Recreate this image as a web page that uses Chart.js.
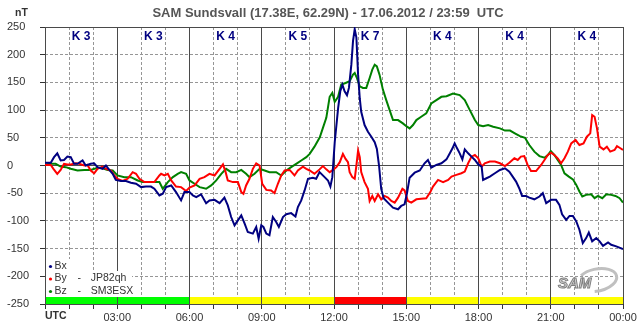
<!DOCTYPE html>
<html>
<head>
<meta charset="utf-8">
<script src="https://cdn.jsdelivr.net/npm/chart.js@4.4.1/dist/chart.umd.min.js"></script>
<style>
  html, body { margin: 0; padding: 0; background: #fff; }
</style>
</head>
<body>
<canvas id="mag" width="643" height="331"></canvas>
<script>
// Data: [hour UTC, nT]
const bx = [[0,5],[0.24,5],[0.375,15],[0.51,22],[0.65,9],[0.79,10],[0.93,16],[1.07,15],[1.21,3],[1.35,3],
  [1.56,9],[1.69,0],[1.9,3],[2.04,4],[2.18,-3],[2.39,-6],[2.53,0],[2.67,-8],[2.81,-15],[2.94,-26],
  [3.15,-28],[3.36,-28],[3.57,-31],[3.78,-33],[3.99,-39],[4.19,-38],[4.4,-38],[4.54,-42],[4.75,-54],[4.89,-51],
  [5.03,-39],[5.24,-36],[5.44,-48],[5.65,-63],[5.79,-48],[6.0,-48],[6.14,-54],[6.28,-57],[6.48,-52],[6.69,-68],
  [6.83,-63],[7.04,-62],[7.25,-68],[7.45,-58],[7.59,-72],[7.73,-93],[7.87,-108],[8.01,-99],[8.15,-90],[8.29,-105],
  [8.42,-120],[8.63,-123],[8.77,-111],[8.87,-132],[8.98,-108],[9.07,-111],[9.19,-123],[9.32,-126],[9.46,-93],[9.6,-102],
  [9.71,-111],[9.88,-93],[10.02,-88],[10.22,-86],[10.4,-92],[10.5,-75],[10.64,-63],[10.78,-45],[10.92,-24],[11.12,-22],
  [11.26,-24],[11.4,-12],[11.61,-21],[11.75,-27],[11.85,-38],[11.93,-21],[12.03,42],[12.17,103],[12.26,134],[12.35,146],
  [12.44,134],[12.54,127],[12.62,140],[12.72,182],[12.79,225],[12.86,246],[12.93,231],[13.0,164],[13.07,121],[13.13,97],
  [13.27,73],[13.41,61],[13.55,52],[13.69,42],[13.78,30],[13.87,0],[13.96,-42],[14.06,-59],[14.24,-67],[14.45,-76],
  [14.66,-79],[14.79,-73],[14.93,-70],[15.03,-50],[15.14,-22],[15.35,-13],[15.56,-9],[15.76,4],[15.9,10],[16.04,-4],
  [16.25,1],[16.46,4],[16.67,11],[16.81,22],[16.92,31],[17.01,40],[17.11,31],[17.22,22],[17.33,11],[17.43,29],
  [17.57,22],[17.71,16],[17.85,10],[17.99,2],[18.13,-2],[18.19,-26],[18.33,-23],[18.47,-20],[18.68,-14],[18.89,-8],
  [19.1,-5],[19.28,-11],[19.42,-20],[19.56,-29],[19.69,-41],[19.81,-55],[19.97,-55],[20.11,-58],[20.32,-61],[20.53,-56],
  [20.67,-50],[20.81,-68],[21.01,-62],[21.22,-62],[21.36,-71],[21.47,-88],[21.64,-98],[21.78,-91],[21.92,-91],[22.06,-101],
  [22.19,-116],[22.33,-140],[22.47,-131],[22.58,-121],[22.72,-137],[22.89,-131],[23.03,-137],[23.17,-145],[23.38,-139],[23.51,-143],
  [23.72,-146],[24,-151]];

const by = [[0,1],[0.24,1],[0.35,-6],[0.51,-15],[0.65,-8],[0.79,3],[0.93,2],[1.07,2],[1.28,4],[1.42,3],
  [1.63,0],[1.76,1],[1.9,-9],[2.04,-14],[2.18,-6],[2.39,-2],[2.53,-6],[2.74,-9],[2.88,-18],[3.01,-24],
  [3.22,-28],[3.43,-24],[3.64,-12],[3.78,-15],[3.92,-24],[4.13,-30],[4.33,-30],[4.54,-30],[4.75,-18],[4.82,-15],
  [4.96,-18],[5.1,-15],[5.24,-27],[5.44,-38],[5.65,-39],[5.86,-46],[6.0,-40],[6.21,-36],[6.42,-24],[6.62,-21],
  [6.83,-15],[7.04,-18],[7.25,-6],[7.39,2],[7.5,-12],[7.59,-27],[7.8,-30],[8.01,-30],[8.15,-48],[8.24,-51],
  [8.35,-36],[8.49,-24],[8.63,-6],[8.77,4],[8.91,0],[9.02,-33],[9.19,-44],[9.39,-45],[9.53,-50],[9.67,-33],
  [9.81,-18],[9.95,-9],[10.16,-8],[10.36,-18],[10.5,-9],[10.71,-2],[10.85,-6],[10.99,-9],[11.19,-15],[11.4,-7],
  [11.54,-1],[11.68,-7],[11.82,-12],[11.96,-8],[12.1,-3],[12.24,6],[12.37,21],[12.48,12],[12.58,6],[12.65,-12],
  [12.76,-21],[12.86,-24],[12.93,0],[13.0,27],[13.07,15],[13.13,-12],[13.27,-30],[13.41,-42],[13.48,-64],[13.59,-55],
  [13.69,-64],[13.83,-52],[13.96,-61],[14.1,-55],[14.24,-58],[14.38,-64],[14.52,-67],[14.66,-58],[14.84,-42],[14.93,-45],
  [15.07,-64],[15.21,-67],[15.42,-61],[15.62,-60],[15.83,-59],[16.0,-48],[16.11,-38],[16.32,-26],[16.53,-30],[16.74,-26],
  [16.88,-20],[17.08,-17],[17.29,-14],[17.43,-11],[17.57,4],[17.71,16],[17.85,19],[17.99,13],[18.13,-2],[18.26,4],
  [18.47,7],[18.68,7],[18.89,4],[19.1,-1],[19.28,5],[19.49,13],[19.63,10],[19.76,16],[19.9,17],[20.04,1],
  [20.18,-10],[20.39,-10],[20.6,1],[20.74,10],[20.88,19],[21.01,23],[21.15,19],[21.29,13],[21.43,4],[21.57,13],
  [21.71,25],[21.85,40],[22.03,46],[22.19,37],[22.36,40],[22.5,52],[22.64,58],[22.72,91],[22.82,88],[22.92,67],
  [23.03,34],[23.19,29],[23.33,34],[23.47,25],[23.65,28],[23.75,35],[23.86,32],[24,28]];

const bz = [[0,2],[0.24,3],[0.44,3],[0.65,-2],[0.86,-3],[1.07,-6],[1.35,-9],[1.63,-8],[1.9,-8],[2.18,-4],
  [2.39,-5],[2.6,-8],[2.81,-9],[3.01,-18],[3.29,-21],[3.57,-21],[3.85,-27],[4.06,-30],[4.26,-30],[4.54,-30],
  [4.75,-30],[4.89,-42],[5.1,-30],[5.31,-21],[5.51,-15],[5.65,-12],[5.86,-15],[6.0,-27],[6.21,-33],[6.42,-39],
  [6.69,-42],[6.9,-36],[7.11,-27],[7.32,-15],[7.52,-6],[7.73,-12],[7.94,-12],[8.15,-8],[8.35,-15],[8.49,-21],
  [8.7,-15],[8.91,-6],[9.12,-9],[9.32,-12],[9.6,-12],[9.81,-18],[10.02,-9],[10.22,-3],[10.43,3],[10.64,9],
  [10.85,15],[10.99,21],[11.19,34],[11.41,51],[11.54,68],[11.68,86],[11.82,124],[11.93,131],[12.03,115],[12.17,124],
  [12.3,146],[12.48,149],[12.65,152],[12.79,164],[12.86,167],[12.95,158],[13.07,143],[13.2,140],[13.34,140],[13.48,158],
  [13.59,173],[13.69,182],[13.78,179],[13.89,164],[14.03,137],[14.17,118],[14.31,100],[14.45,82],[14.66,82],[14.86,76],
  [15.03,70],[15.14,67],[15.28,73],[15.42,82],[15.62,88],[15.83,94],[16.04,112],[16.25,118],[16.46,124],[16.67,125],
  [16.94,130],[17.22,127],[17.43,118],[17.64,100],[17.85,82],[17.99,73],[18.19,71],[18.4,73],[18.61,70],[18.89,67],
  [19.1,63],[19.31,63],[19.51,58],[19.72,53],[19.93,50],[20.11,37],[20.32,25],[20.53,17],[20.74,14],[20.88,19],
  [21.0,26],[21.15,19],[21.29,10],[21.43,1],[21.57,-14],[21.75,-20],[21.92,-25],[22.06,-35],[22.19,-47],[22.31,-56],
  [22.47,-53],[22.68,-52],[22.82,-59],[22.96,-55],[23.14,-59],[23.31,-52],[23.51,-53],[23.69,-55],[23.86,-59],[24,-67]];

// K index per 3-hour block
const kIndex = [3, 3, 4, 5, 7, 4, 4, 4];

const titleText = 'SAM Sundsvall (17.38E, 62.29N) - 17.06.2012 / 23:59  UTC';
const legendRows = [
  { name: 'Bx', call: '', color: '#000080' },
  { name: 'By', call: 'JP82qh', color: '#ff0000' },
  { name: 'Bz', call: 'SM3ESX', color: '#008000' }
];

Chart.defaults.font.family = '"Liberation Sans", Arial, sans-serif';

const toPts = arr => arr.map(p => ({ x: p[0], y: p[1] }));

// dashed line drawn as short solid segments
function dashLine(ctx, x0, y0, x1, y1) {
  const len = Math.hypot(x1 - x0, y1 - y0);
  const dx = (x1 - x0) / len, dy = (y1 - y0) / len;
  for (let s = 0; s < len; s += 5) {
    const e = Math.min(s + 3, len);
    ctx.moveTo(x0 + dx * s, y0 + dy * s);
    ctx.lineTo(x0 + dx * e, y0 + dy * e);
  }
}

// extra drawing: grid, K bar, legend, title, logo
const extras = {
  id: 'extras',
  beforeDatasetsDraw(chart) {
    const { ctx, chartArea: a, scales: { x, y } } = chart;
    const al = v => Math.round(v + 0.5) - 0.5;
    ctx.save();
    ctx.lineWidth = 1;

    // dashed grid
    ctx.strokeStyle = '#969696';
    ctx.beginPath();
    for (let h = 1; h < 24; h++) {
      if (h % 3 === 0) continue;
      const px = al(x.getPixelForValue(h));
      dashLine(ctx, px, a.top, px, a.bottom);
    }
    for (let v = -200; v <= 200; v += 50) {
      if (v === 0) continue;
      const py = al(y.getPixelForValue(v));
      dashLine(ctx, a.left, py, a.right, py);
    }
    ctx.stroke();

    // K index colour bar
    const barTop = a.bottom - 7;
    kIndex.forEach((k, i) => {
      const x0 = x.getPixelForValue(i * 3), x1 = x.getPixelForValue(i * 3 + 3);
      ctx.fillStyle = k >= 6 ? '#ff0000' : (k >= 4 ? '#ffff00' : '#00ff00');
      ctx.fillRect(Math.round(x0), barTop, Math.round(x1) - Math.round(x0), 7);
    });
    ctx.fillStyle = '#fff';
    ctx.fillRect(Math.round(x.getPixelForValue(18)), barTop, 1, 7);

    // solid grid lines
    ctx.strokeStyle = '#4a4a4a';
    ctx.beginPath();
    for (let h = 3; h <= 24; h += 3) {
      const px = al(x.getPixelForValue(h));
      ctx.moveTo(px, a.top); ctx.lineTo(px, a.bottom);
    }
    [-250, 0, 250].forEach(v => {
      const py = al(y.getPixelForValue(v));
      ctx.moveTo(a.left, py); ctx.lineTo(a.right, py);
    });
    ctx.stroke();

    // legend background
    ctx.fillStyle = '#fff';
    ctx.fillRect(a.left + 1, 259, 29, 12);
    ctx.fillRect(a.left + 1, 271, 86, barTop - 271);

    // left border
    ctx.beginPath();
    const lx = al(a.left);
    ctx.moveTo(lx, a.top); ctx.lineTo(lx, a.bottom);
    ctx.stroke();

    // legend text
    ctx.font = '10.5px "Liberation Sans", Arial, sans-serif';
    ctx.textBaseline = 'middle';
    ctx.textAlign = 'left';
    const rowY = [266, 278.5, 291];
    legendRows.forEach((r, i) => {
      ctx.fillStyle = r.color;
      ctx.beginPath();
      ctx.arc(a.left + 5.5, rowY[i] + 0.5, 1.6, 0, Math.PI * 2);
      ctx.fill();
      ctx.fillStyle = '#333';
      ctx.fillText(r.name, a.left + 9.5, rowY[i]);
      if (r.call) {
        ctx.fillText('-', a.left + 32.5, rowY[i]);
        ctx.fillText(r.call, a.left + 45.7, rowY[i]);
      }
    });

    // SAM logo
    ctx.save();
    ctx.strokeStyle = '#c0c0c0';
    ctx.lineWidth = 3;
    ctx.beginPath();
    ctx.ellipse(597, 280, 20, 11, -0.2, -2.4, 1.8);
    ctx.stroke();
    ctx.font = 'italic bold 15px "Liberation Sans", Arial, sans-serif';
    ctx.fillStyle = '#d4d4d4';
    ctx.strokeStyle = '#808080';
    ctx.lineWidth = 1;
    ctx.fillText('SAM', 558, 284);
    ctx.strokeText('SAM', 558, 284);
    ctx.restore();

    ctx.restore();
  },
  afterDatasetsDraw(chart) {
    const { ctx, chartArea: a, scales: { x } } = chart;
    ctx.save();
    ctx.textBaseline = 'middle';
    // K labels
    ctx.font = 'bold 12px "Liberation Sans", Arial, sans-serif';
    ctx.fillStyle = '#000080';
    ctx.textAlign = 'center';
    kIndex.forEach((k, i) => {
      ctx.fillText('K ' + k, x.getPixelForValue(i * 3 + 1.5), 36.5);
    });
    // title
    ctx.font = 'bold 13px "Liberation Sans", Arial, sans-serif';
    ctx.fillStyle = '#555';
    ctx.fillText(titleText, 328, 13.5);
    // unit and UTC
    ctx.font = 'bold 10.5px "Liberation Sans", Arial, sans-serif';
    ctx.fillStyle = '#333';
    ctx.textAlign = 'left';
    ctx.fillText('nT', 15, 13);
    ctx.fillText('UTC', a.left, 316.5);
    ctx.restore();
  }
};

new Chart(document.getElementById('mag'), {
  type: 'line',
  data: {
    datasets: [
      { label: 'Bx', data: toPts(bx), borderColor: '#000080' },
      { label: 'By', data: toPts(by), borderColor: '#ff0000' },
      { label: 'Bz', data: toPts(bz), borderColor: '#008000' }
    ]
  },
  options: {
    responsive: false,
    animation: false,
    devicePixelRatio: 1,
    layout: { padding: { top: 27, right: 20, left: 7, bottom: 0 } },
    elements: {
      line: { borderWidth: 2, tension: 0, fill: false },
      point: { radius: 0, hoverRadius: 0 }
    },
    plugins: { legend: { display: false }, tooltip: { enabled: false } },
    scales: {
      x: {
        type: 'linear', min: 0, max: 24,
        afterFit: s => { s.height = 27; },
        ticks: {
          stepSize: 1, autoSkip: false, maxRotation: 0, padding: 2,
          color: '#333', font: { size: 11 },
          callback: v => (v % 3 === 0 && v > 0) ? String(v % 24).padStart(2, '0') + ':00' : ''
        },
        grid: { drawOnChartArea: false, tickLength: 5, tickColor: '#333' },
        border: { display: false }
      },
      y: {
        min: -250, max: 250,
        afterFit: s => { s.width = 38; },
        ticks: { stepSize: 50, crossAlign: 'far', color: '#333', font: { size: 11 } },
        grid: { drawOnChartArea: false, tickLength: 5, tickColor: '#333' },
        border: { display: false }
      }
    }
  },
  plugins: [extras]
});
</script>
</body>
</html>
